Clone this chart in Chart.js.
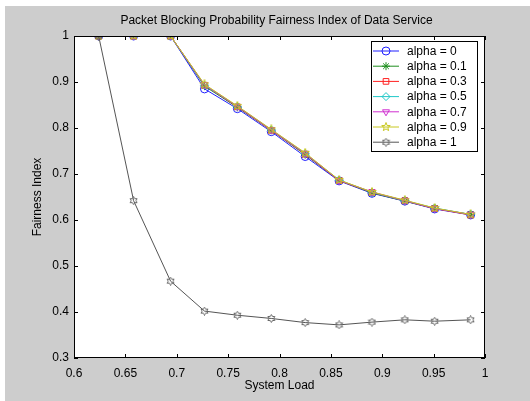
<!DOCTYPE html>
<html>
<head>
<meta charset="utf-8">
<script src="https://cdn.jsdelivr.net/npm/chart.js@4/dist/chart.umd.min.js"></script>
<style>
  html, body { margin: 0; padding: 0; background: #fff; }
  #wrap { width: 530px; height: 401px; }
</style>
</head>
<body>
<div id="wrap"><canvas id="chart" width="530" height="401"></canvas></div>
<script>
// Data
const systemLoad = [0.624, 0.658, 0.694, 0.727, 0.759, 0.792, 0.825, 0.858, 0.89, 0.922, 0.951, 0.986];
const alpha0  = [1, 1, 1, 0.885, 0.842, 0.792, 0.738, 0.685, 0.658, 0.641, 0.624, 0.611];
const alpha01 = [1, 1, 1, 0.891, 0.845, 0.795, 0.742, 0.686, 0.659, 0.641, 0.625, 0.612];
const alpha03 = [1, 1, 1, 0.893, 0.846, 0.795, 0.743, 0.686, 0.660, 0.642, 0.625, 0.611];
const alpha05 = [1, 1, 1, 0.893, 0.847, 0.796, 0.744, 0.687, 0.660, 0.642, 0.626, 0.612];
const alpha07 = [1, 1, 1, 0.894, 0.847, 0.796, 0.745, 0.686, 0.661, 0.642, 0.625, 0.612];
const alpha09 = [1, 1, 1, 0.895, 0.848, 0.797, 0.746, 0.687, 0.661, 0.643, 0.626, 0.612];
const alpha1  = [1, 0.642, 0.467, 0.402, 0.393, 0.386, 0.377, 0.372, 0.378, 0.383, 0.380, 0.383];
const seriesLabels = ['alpha = 0', 'alpha = 0.1', 'alpha = 0.3', 'alpha = 0.5', 'alpha = 0.7', 'alpha = 0.9', 'alpha = 1'];
const xTicks = [0.6, 0.65, 0.7, 0.75, 0.8, 0.85, 0.9, 0.95, 1];
const yTicks = [0.3, 0.4, 0.5, 0.6, 0.7, 0.8, 0.9, 1];

const FONT = 'Liberation Sans, Arial, Helvetica, sans-serif';

// star markers (MATLAB pentagram / hexagram)
function starMarker(points, color, size) {
  const c = document.createElement('canvas');
  c.width = size; c.height = size;
  const g = c.getContext('2d');
  const cx = size / 2, cy = size / 2, ro = size / 2 - 0.5, ri = ro * (points === 5 ? 0.42 : 0.58);
  g.beginPath();
  for (let i = 0; i < points * 2; i++) {
    const r = i % 2 ? ri : ro;
    const a = -Math.PI / 2 + i * Math.PI / points;
    const px = cx + r * Math.cos(a), py = cy + r * Math.sin(a);
    i ? g.lineTo(px, py) : g.moveTo(px, py);
  }
  g.closePath();
  g.strokeStyle = color; g.lineWidth = 1;
  g.stroke();
  return c;
}

const styles = [
  { color: '#2020ff', point: 'circle', rot: 0 },
  { color: '#1f8f1f', point: 'star', rot: 0 },
  { color: '#ff2020', point: 'rect', rot: 0 },
  { color: '#20c8c8', point: 'rectRot', rot: 0 },
  { color: '#d030d0', point: 'triangle', rot: 180 },
  { color: '#c8c820', point: starMarker(5, '#c8c820', 10), rot: 0 },
  { color: '#555555', point: starMarker(6, '#666666', 9), rot: 0 }
];
const values = [alpha0, alpha01, alpha03, alpha05, alpha07, alpha09, alpha1];

const datasets = values.map((v, i) => ({
  label: seriesLabels[i],
  data: v.map((y, j) => ({ x: systemLoad[j], y: y })),
  borderColor: styles[i].color,
  backgroundColor: 'transparent',
  borderWidth: 1,
  pointStyle: styles[i].point,
  pointRotation: styles[i].rot,
  pointRadius: 4,
  pointBorderWidth: 1,
  pointBorderColor: styles[i].color,
  pointBackgroundColor: 'transparent',
  tension: 0,
  order: 6 - i
}));

// Background, frame, inward ticks, title, legend
const matlabLook = {
  id: 'matlabLook',
  beforeDraw(chart) {
    const { ctx, chartArea: a } = chart;
    ctx.save();
    ctx.fillStyle = '#ffffff';
    ctx.fillRect(0, 0, chart.width, chart.height);
    ctx.fillStyle = '#cdcdcd';
    ctx.fillRect(5, 6, chart.width - 5, chart.height - 6);
    ctx.fillStyle = '#ffffff';
    ctx.fillRect(a.left, a.top, a.right - a.left, a.bottom - a.top);
    ctx.restore();
  },
  afterDatasetsDraw(chart) {
    const { ctx, chartArea: a, scales } = chart;
    ctx.save();
    ctx.strokeStyle = '#000';
    ctx.lineWidth = 1;
    ctx.strokeRect(a.left + 0.5, a.top + 0.5, a.right - a.left - 1, a.bottom - a.top - 1);
    const tl = 4;
    ctx.beginPath();
    xTicks.forEach(t => {
      const px = Math.round(scales.x.getPixelForValue(t)) + 0.5;
      ctx.moveTo(px, a.bottom); ctx.lineTo(px, a.bottom - tl);
      ctx.moveTo(px, a.top); ctx.lineTo(px, a.top + tl);
    });
    yTicks.forEach(t => {
      const py = Math.round(scales.y.getPixelForValue(t)) + 0.5;
      ctx.moveTo(a.left, py); ctx.lineTo(a.left + tl, py);
      ctx.moveTo(a.right, py); ctx.lineTo(a.right - tl, py);
    });
    ctx.stroke();

    // title
    ctx.fillStyle = '#000';
    ctx.font = '12px ' + FONT;
    ctx.textAlign = 'center';
    ctx.textBaseline = 'middle';
    ctx.fillText('Packet Blocking Probability Fairness Index of Data Service', (a.left + a.right) / 2 - 3, 21);

    // legend
    const lx = 371.5, ly = 41.5, lw = 106, lh = 110;
    ctx.fillStyle = '#fff';
    ctx.fillRect(lx, ly, lw, lh);
    ctx.strokeStyle = '#000';
    ctx.strokeRect(lx, ly, lw, lh);
    ctx.textAlign = 'left';
    chart.data.datasets.forEach((ds, i) => {
      const y = 51 + i * 15.2;
      ctx.strokeStyle = ds.borderColor;
      ctx.beginPath();
      ctx.moveTo(373, y); ctx.lineTo(399, y);
      ctx.stroke();
      ctx.fillStyle = 'transparent';
      Chart.helpers.drawPoint(ctx, { pointStyle: ds.pointStyle, radius: 4, rotation: ds.pointRotation, borderWidth: 1 }, 386, y);
      ctx.fillStyle = '#000';
      ctx.fillText(ds.label, 407, y + 0.5);
    });
    ctx.restore();
  }
};

const tickFmt = v => String(+v.toFixed(2));

new Chart(document.getElementById('chart'), {
  type: 'line',
  data: { datasets: datasets },
  options: {
    responsive: false,
    animation: false,
    layout: { padding: { top: 36, right: 45, left: 0, bottom: 0 } },
    plugins: { legend: { display: false }, title: { display: false }, tooltip: { enabled: false } },
    scales: {
      x: {
        type: 'linear', min: 0.6, max: 1,
        afterFit: s => { s.height = 43; },
        afterBuildTicks: s => { s.ticks = xTicks.map(v => ({ value: v })); },
        grid: { display: false, drawTicks: false },
        border: { display: false },
        ticks: { padding: 8, color: '#000', font: { size: 12, family: FONT }, callback: tickFmt, maxRotation: 0, autoSkip: false },
        title: { display: true, text: 'System Load', color: '#000', font: { size: 12, family: FONT }, padding: { top: 0, bottom: 8 } }
      },
      y: {
        type: 'linear', min: 0.3, max: 1,
        afterFit: s => { s.width = 74; },
        afterBuildTicks: s => { s.ticks = yTicks.map(v => ({ value: v })); },
        grid: { display: false, drawTicks: false },
        border: { display: false },
        ticks: { padding: 5, color: '#000', font: { size: 12, family: FONT }, callback: tickFmt, autoSkip: false },
        title: { display: true, text: 'Fairness Index', color: '#000', font: { size: 12, family: FONT }, padding: { top: 30, bottom: 0 } }
      }
    }
  },
  plugins: [matlabLook]
});
</script>
</body>
</html>
